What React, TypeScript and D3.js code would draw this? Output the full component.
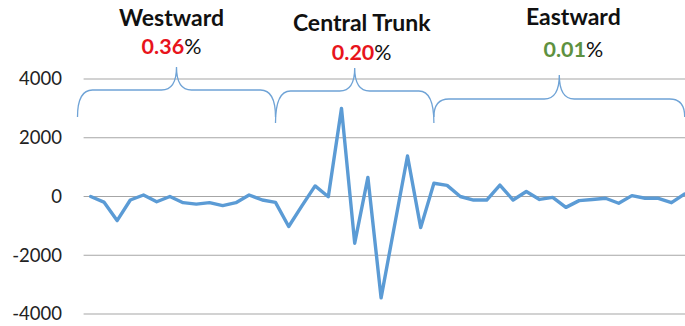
import React from "react";
import * as d3 from "d3";

// Monthly change series (46 observations)
const values: number[] = [
  0, -190, -820, -120, 50, -180, 0, -210, -260, -210, -310, -210, 50, -120, -200,
  -1020, -320, 360, -10, 3000, -1590, 650, -3450, -1030, 1380, -1060, 450, 380, 0,
  -120, -120, 390, -120, 170, -100, -30, -370, -140, -100, -60, -230, 30, -60, -60,
  -210, 85,
];

const yTicks: number[] = [4000, 2000, 0, -2000, -4000];

// Segment groups: name, share label, brace start/end (category index), label colour
const groupNames: string[] = ["Westward", "Central Trunk", "Eastward"];
const groupShares: string[] = ["0.36", "0.20", "0.01"];
const groupStart: number[] = [-1, 14, 26];
const groupEnd: number[] = [14, 26, 45];
const groupColors: string[] = ["#e8141c", "#e8141c", "#5e9140"];

const W = 685;
const H = 326;
const FONT = "Lato, 'Open Sans', sans-serif";

export default function App() {
  const band = 13.2;
  const x0 = 90.7;
  const x = (i: number) => x0 + i * band;
  const y = d3.scaleLinear().domain([-4000, 4000]).range([314, 79]);

  const line = d3
    .line<number>()
    .x((_, i) => x(i))
    .y((d) => y(d));

  const plotLeft = x(0) - band / 2 - 0.5;
  const plotRight = x(values.length - 1) + band / 2;

  // layout of each brace: horizontal level, tip height, end drop
  const braceLevel = [90, 91, 99];
  const braceTip = [67, 68, 75];
  const braceEnd = [117, 123, 117];
  const titleY = [26, 31, 25];
  const shareY = [54, 60, 57];
  const labelShift = [-5, 7, 14];

  const bracePath = (a: number, b: number, lvl: number, tip: number, end: number) => {
    const xa = x(a);
    const xb = x(b);
    const xm = (xa + xb) / 2;
    const r = 15;
    const p = d3.path();
    p.moveTo(xa, end);
    p.quadraticCurveTo(xa, lvl, xa + r, lvl);
    p.lineTo(xm - r, lvl);
    p.quadraticCurveTo(xm, lvl, xm, tip);
    p.quadraticCurveTo(xm, lvl, xm + r, lvl);
    p.lineTo(xb - r, lvl);
    p.quadraticCurveTo(xb, lvl, xb, end);
    return p.toString();
  };

  return (
    <svg
      width={W}
      height={H}
      style={{ position: "absolute", left: 0, top: 0, background: "#fff" }}
      fontFamily={FONT}
    >
      {yTicks.map((t) => (
        <g key={t}>
          <line
            x1={plotLeft}
            x2={plotRight}
            y1={y(t)}
            y2={y(t)}
            stroke="#a6a6a6"
            strokeWidth={1.2}
          />
          <text
            x={62}
            y={y(t)}
            dy="0.35em"
            textAnchor="end"
            fontSize={18.5}
            fill="#222"
          >
            {t}
          </text>
        </g>
      ))}

      {groupNames.map((name, g) => {
        const cx = (x(groupStart[g]) + x(groupEnd[g])) / 2 + labelShift[g];
        return (
          <g key={name}>
            <path
              d={bracePath(groupStart[g], groupEnd[g], braceLevel[g], braceTip[g], braceEnd[g])}
              fill="none"
              stroke="#6fa3d6"
              strokeWidth={1.3}
            />
            <text
              x={cx}
              y={titleY[g]}
              textAnchor="middle"
              fontSize={23}
              fontWeight="bold"
              fill="#111"
            >
              {name}
            </text>
            <text
              x={cx}
              y={shareY[g]}
              textAnchor="middle"
              fontSize={21.5}
              fontWeight="bold"
            >
              <tspan fill={groupColors[g]}>{groupShares[g]}</tspan>
              <tspan fill="#111" fontWeight="normal">%</tspan>
            </text>
          </g>
        );
      })}

      <path
        d={line(values) || ""}
        fill="none"
        stroke="#5b9bd5"
        strokeWidth={3.4}
        strokeLinejoin="round"
        strokeLinecap="round"
      />
    </svg>
  );
}
